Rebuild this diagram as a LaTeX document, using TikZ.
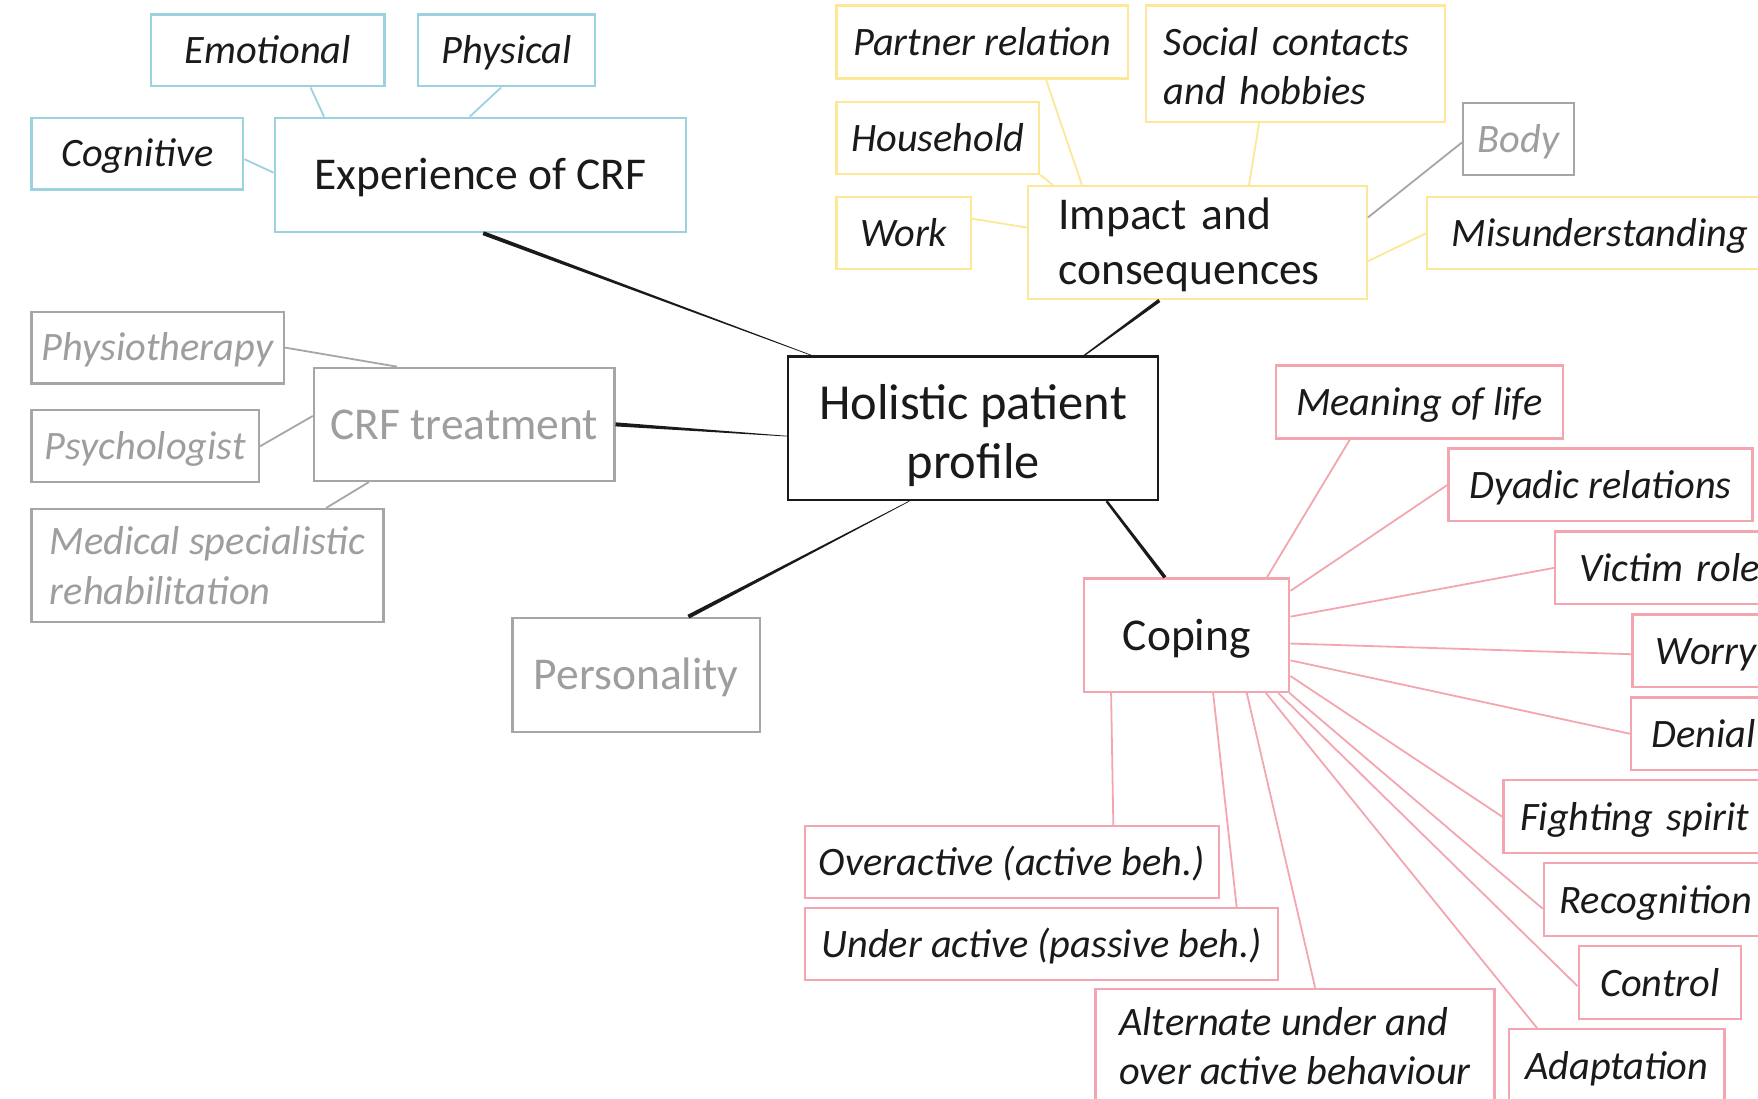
\documentclass[tikz,border=0pt]{standalone}
\usepackage{fontspec}
\setmainfont{Carlito}
\usetikzlibrary{calc}

\definecolor{cblue}{RGB}{155,210,222}
\definecolor{cyel}{RGB}{252,232,150}
\definecolor{cgray}{RGB}{166,166,166}
\definecolor{cpink}{RGB}{243,166,176}
\definecolor{ink}{RGB}{26,26,26}
\definecolor{gtext}{RGB}{158,158,158}

% tapered connector: #1 thick end, #2 thin end, #3/#4 half widths
\newcommand\wedgeline[4]{%
  \fill[ink] ($(#1)!#3!90:(#2)$) -- ($(#2)!#4!-90:(#1)$) --
             ($(#2)!#4!90:(#1)$) -- ($(#1)!#3!-90:(#2)$) -- cycle;}
% struts for two-line labels: top of first line, bottom of last line
\newcommand\topstrut[1]{\rule{0pt}{#1}}
\newcommand\botstrut{\rule[-0.25em]{0pt}{0pt}}

\tikzset{
  box/.style={draw, rectangle, line width=1pt, inner sep=0pt, text=ink, align=center},
  mainfont/.style={font=\fontsize{20.3}{24.5}\selectfont},
  subfont/.style={font=\fontsize{18}{22}\selectfont\itshape},
  main/.style={box, mainfont, text height=17.5pt, text depth=4.1pt},
  sub/.style={box, subfont, text height=15.5pt, text depth=3.6pt},
  bluebox/.style={draw=cblue},
  yelbox/.style={draw=cyel},
  graybox/.style={draw=cgray, text=gtext},
  pinkbox/.style={draw=cpink},
  cutbox/.style={anchor=west, text width=200pt, align=left},
  bline/.style={draw=cblue, line width=0.8pt},
  yline/.style={draw=cyel, line width=0.8pt},
  gline/.style={draw=cgray, line width=0.8pt},
  pline/.style={draw=cpink, line width=0.8pt},
}

\begin{document}
\begin{tikzpicture}[x=0.5pt, y=-0.5pt]
\useasboundingbox (0,0) rectangle (1568,980);
\fill[white] (0,0) rectangle (1568,980);

% centre
\node[box, draw=ink, font=\fontsize{22.5}{26.5}\selectfont, minimum width=165pt, minimum height=64pt] (hol) at (868,382) {\topstrut{1.06em}Holistic patient\\profile\botstrut};

% experience of CRF
\node[main, bluebox, minimum width=183.5pt, minimum height=51pt] (exp) at (428.5,156) {Experience of CRF};
\node[sub, bluebox, minimum width=104pt, minimum height=32pt] (emo) at (239,45) {Emotional};
\node[sub, bluebox, minimum width=79pt, minimum height=32pt] (phy) at (452,45) {Physical};
\node[sub, bluebox, minimum width=94.5pt, minimum height=32pt] (cog) at (122.5,137) {Cognitive};

% impact and consequences
\node[box, mainfont, yelbox, inner xsep=13.5pt, text width=124pt, align=left, minimum height=50.5pt] (imp) at (1068,216.5) {\topstrut{0.89em}Impact and\\consequences\botstrut};
\node[sub, yelbox, minimum width=130pt, minimum height=32.5pt] (par) at (876,37.5) {Partner relation};
\node[box, subfont, yelbox, inner xsep=8pt, text width=117.5pt, align=left, minimum height=52pt] (soc) at (1155.5,57) {\topstrut{1.05em}Social contacts\\and hobbies\botstrut};
\node[sub, yelbox, minimum width=90.5pt, minimum height=32pt] (hou) at (836.5,123) {Household};
\node[sub, yelbox, minimum width=60pt, minimum height=32pt] (work) at (806,208) {Work};
\node[sub, graybox, minimum width=49.5pt, minimum height=32pt] (body) at (1354.5,124) {Body};
\node[sub, yelbox, cutbox, inner xsep=11pt, minimum height=32pt] (mis) at (1272,208) {Misunderstanding};

% CRF treatment and personality
\node[main, graybox, minimum width=134pt, minimum height=50.5pt] (crf) at (414,378.5) {CRF treatment};
\node[sub, graybox, minimum width=112.5pt, minimum height=32pt] (phys) at (140.5,310) {Physiotherapy};
\node[sub, graybox, minimum width=101.5pt, minimum height=32pt] (psy) at (129.5,398) {Psychologist};
\node[box, subfont, graybox, align=left, minimum width=157pt, minimum height=50.5pt] (med) at (185,504.5) {Medical specialistic\\rehabilitation};
\node[main, graybox, minimum width=110.5pt, minimum height=51pt] (pers) at (567.5,602) {Personality};

% coping
\node[main, pinkbox, minimum width=91.5pt, minimum height=50.5pt] (cop) at (1058.5,566.5) {Coping};
\node[sub, pinkbox, minimum width=128pt, minimum height=32.5pt] (mean) at (1266,358.5) {Meaning of life};
\node[sub, pinkbox, minimum width=135.5pt, minimum height=32.5pt] (dya) at (1427.5,432.5) {Dyadic relations};
\node[sub, pinkbox, cutbox, inner xsep=11pt, minimum height=32.5pt] (vic) at (1386,506.5) {Victim role};
\node[sub, pinkbox, cutbox, inner xsep=10.5pt, minimum height=32.5pt] (wor) at (1455,580.5) {Worry};
\node[sub, pinkbox, cutbox, inner xsep=9pt, minimum height=32.5pt] (den) at (1454,654.5) {Denial};
\node[sub, pinkbox, cutbox, inner xsep=7.5pt, minimum height=32.5pt] (fig) at (1340,728.5) {Fighting spirit};
\node[sub, pinkbox, cutbox, inner xsep=7pt, minimum height=32.5pt] (rec) at (1376,802.5) {Recognition};
\node[sub, pinkbox, minimum width=72.5pt, minimum height=32.5pt] (con) at (1480.5,876.5) {Control};
\node[sub, pinkbox, minimum width=96pt, minimum height=32.5pt] (ada) at (1442,950.5) {Adaptation};
\node[sub, pinkbox, minimum width=184.5pt, minimum height=32pt] (over) at (902.5,769) {Overactive (active beh.)};
\node[sub, pinkbox, minimum width=211pt, minimum height=32pt] (und) at (929,842) {Under active (passive beh.)};
\node[box, subfont, pinkbox, align=left, minimum width=178pt, minimum height=51pt] (alt) at (1155,933) {Alternate under and\\over active behaviour};

% blue links
\draw[bline] ($(emo.south west)+(143,0)$) -- ($(exp.north west)+(45,0)$);
\draw[bline] ($(phy.south west)+(75,0)$) -- ($(exp.north west)+(175,0)$);
\draw[bline] ($(cog.north east)+(0,38)$) -- ($(exp.north west)+(0,50)$);

% yellow links
\draw[yline] ($(par.south west)+(188,0)$) -- ($(imp.north west)+(49,0)$);
\draw[yline] ($(soc.south west)+(102,0)$) -- ($(imp.north west)+(198,0)$);
\draw[yline] (hou.south east) -- ($(imp.north west)+(23,0)$);
\draw[yline] ($(work.north east)+(0,20)$) -- ($(imp.north west)+(0,38)$);
\draw[gline] ($(body.north west)+(0,36)$) -- ($(imp.north east)+(0,29)$);
\draw[yline] (mis.west) -- ($(imp.north east)+(0,68)$);

% gray links
\draw[gline] (phys.east) -- ($(crf.north west)+(75,0)$);
\draw[gline] (psy.east) -- ($(crf.north west)+(0,44)$);
\draw[gline] ($(med.north west)+(264,0)$) -- ($(crf.south west)+(50,0)$);

% pink links
\draw[pline] ($(mean.south west)+(67,0)$) -- ($(cop.north west)+(164,0)$);
\draw[pline] (dya.west) -- ($(cop.north east)+(0,12)$);
\draw[pline] (vic.west) -- ($(cop.north east)+(0,35)$);
\draw[pline] ($(wor.west)+(0,3)$) -- ($(cop.north east)+(0,59)$);
\draw[pline] (den.west) -- ($(cop.north east)+(0,74)$);
\draw[pline] (fig.west) -- ($(cop.north east)+(0,88)$);
\draw[pline] ($(rec.west)+(0,8)$) -- ($(cop.south east)+(-1,0)$);
\draw[pline] ($(con.west)+(0,3)$) -- ($(cop.south west)+(174,0)$);
\draw[pline] ($(ada.north west)+(26,0)$) -- ($(cop.south west)+(163,0)$);
\draw[pline] ($(alt.north west)+(197,0)$) -- ($(cop.south west)+(146,0)$);
\draw[pline] ($(und.north west)+(386,0)$) -- ($(cop.south west)+(116,0)$);
\draw[pline] ($(over.north west)+(276,0)$) -- ($(cop.south west)+(25,0)$);

% main links to the centre, tapering towards it
\coordinate (expend) at ($(exp.south west)+(187,0)$);
\coordinate (holexp) at ($(hol.north west)+(22,0)$);
\wedgeline{expend}{holexp}{0.9pt}{0.15pt}
\coordinate (impend) at ($(imp.south west)+(118,0)$);
\coordinate (holimp) at ($(hol.north west)+(265,0)$);
\wedgeline{impend}{holimp}{0.8pt}{0.3pt}
\coordinate (crfend) at (crf.east);
\coordinate (holcrf) at ($(hol.north west)+(0,72)$);
\wedgeline{crfend}{holcrf}{0.9pt}{0.15pt}
\coordinate (persend) at ($(pers.north west)+(158,0)$);
\coordinate (holpers) at ($(hol.south west)+(109,0)$);
\wedgeline{persend}{holpers}{0.9pt}{0.15pt}
\coordinate (copend) at ($(cop.north west)+(73,0)$);
\coordinate (holcop) at ($(hol.south west)+(285,0)$);
\wedgeline{copend}{holcop}{0.8pt}{0.55pt}
\end{tikzpicture}
\end{document}
